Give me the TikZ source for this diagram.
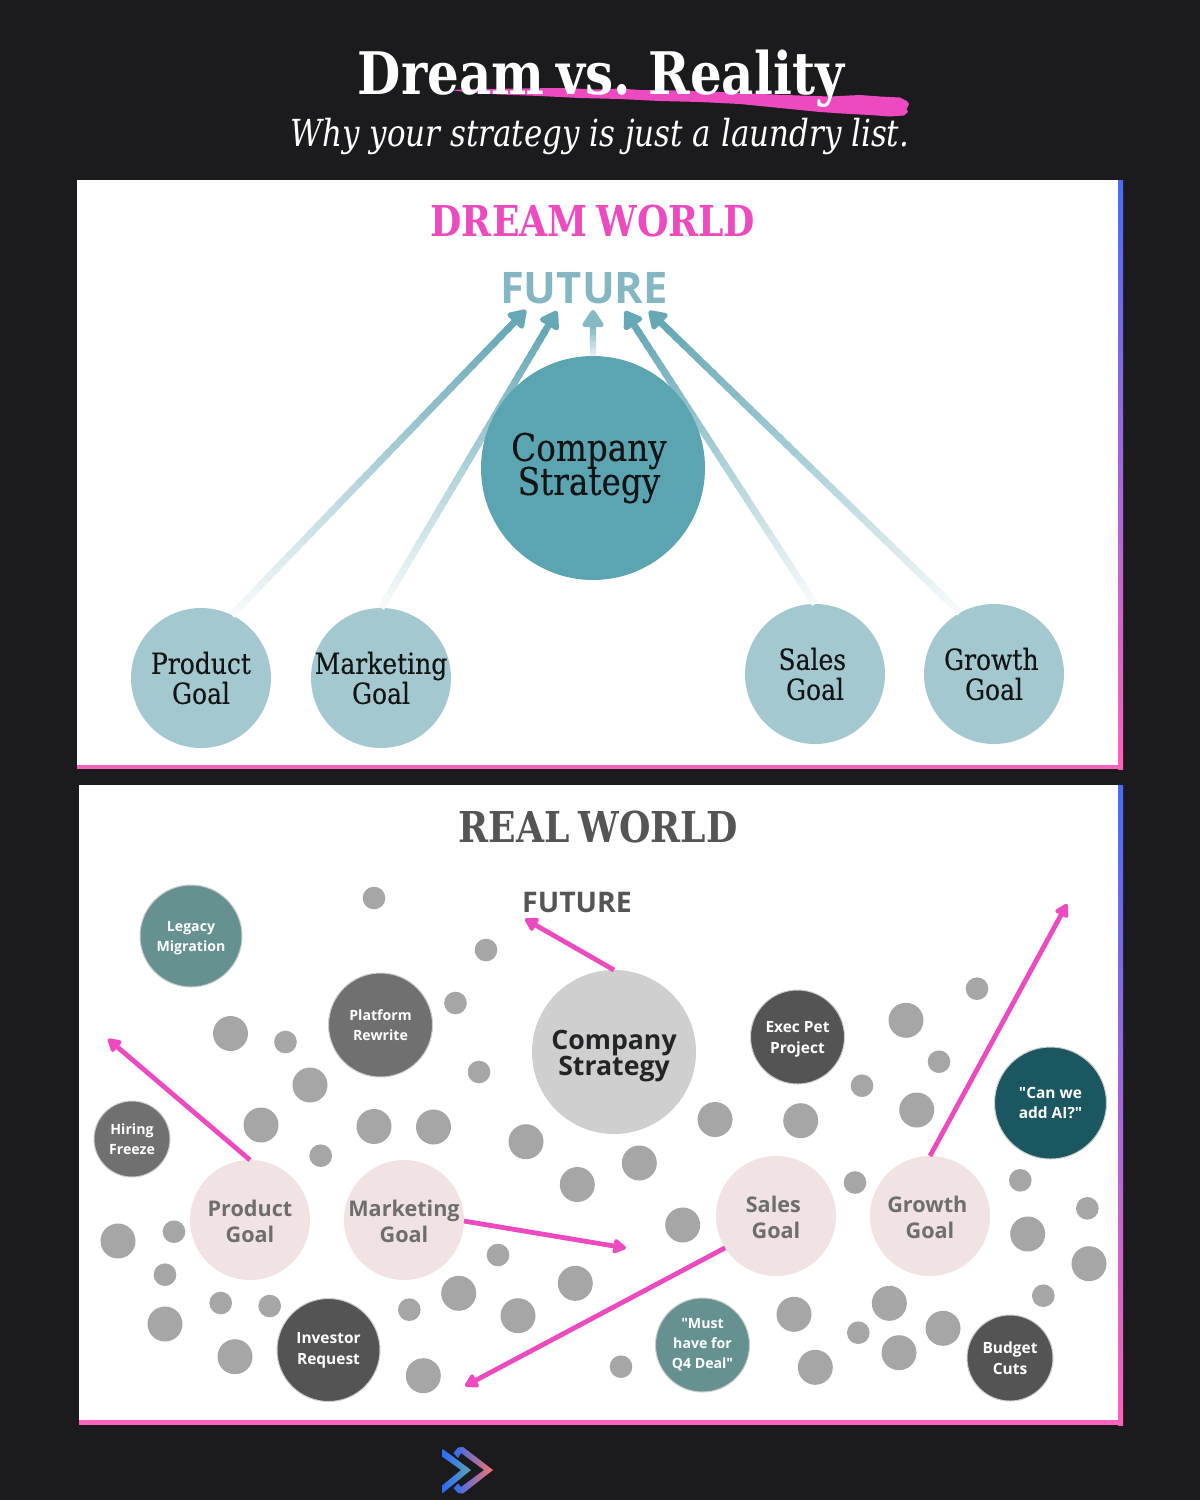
\documentclass[tikz,border=0pt]{standalone}
\usepackage{fontspec}
\usetikzlibrary{arrows.meta,calc}
\newfontfamily\osans{Open Sans}
\newfontfamily\serH[FakeStretch=0.85,WordSpace=0.7]{DejaVu Serif}
\newfontfamily\serA[FakeStretch=0.86,FakeBold=0.25]{DejaVu Serif}
\newfontfamily\serB[FakeStretch=0.83]{DejaVu Serif}
\definecolor{bgdark}{HTML}{1B1B1D}
\definecolor{pink}{HTML}{EE4AC0}
\definecolor{edgepink}{HTML}{FF62BC}
\definecolor{edgeblue}{HTML}{4A6CF5}
\definecolor{logoblue}{HTML}{2E6BF6}
\definecolor{teal}{HTML}{5BA5B3}
\definecolor{tealtip}{HTML}{66A8B6}
\definecolor{tealmid}{HTML}{85BAC5}
\definecolor{tealtext}{HTML}{84B7C2}
\definecolor{goalblue}{HTML}{A3C8D0}
\definecolor{goalrose}{HTML}{F1E3E3}
\definecolor{goaltext}{HTML}{6E6E6E}
\definecolor{darkgrey}{HTML}{545454}
\definecolor{midgrey}{HTML}{707070}
\definecolor{greenish}{HTML}{659190}
\definecolor{deepteal}{HTML}{1B5761}
\definecolor{dotgrey}{HTML}{A6A6A6}
\definecolor{lightgrey}{HTML}{CFCFCF}
\definecolor{titlegrey}{HTML}{555555}
\definecolor{ink}{HTML}{222426}
\definecolor{logoorange}{HTML}{F8736D}
\tikzset{
  disc/.style={circle,inner sep=-6pt,outer sep=0pt,minimum size=#1*1.5pt,align=center},
  greydot/.style={disc=#1,fill=dotgrey},
  topgoal/.style={disc=70,fill=goalblue,text=black!92,font=\serA\fontsize{21.8}{22.5}\selectfont},
  lowgoal/.style={disc=60,fill=goalrose,text=goaltext,font=\osans\bfseries\fontsize{16.2}{19.5}\selectfont},
  chip/.style={disc=#1,draw=gray!40,line width=0.75pt,text=white,font=\osans\bfseries\fontsize{10.6}{15}\selectfont},
  chipbig/.style={disc=#1,draw=gray!40,line width=0.75pt,text=white,font=\osans\bfseries\fontsize{11.6}{15.5}\selectfont},
  pinkarrow/.style={draw=pink,line width=3.6pt,-{Triangle[round,length=11pt,width=12pt]}},
  plaintext/.style={inner sep=0pt,outer sep=0pt,anchor=base},
}
\newcommand{\fadearrow}[5]{%
  \coordinate (headback) at ($(#2)!14pt!(#1)$);
  \foreach \i in {0,...,39}{%
    \pgfmathsetmacro\ta{\i/40}%
    \pgfmathsetmacro\tb{min(1,(\i+1.4)/40)}%
    \pgfmathtruncatemacro\pc{#5+(100-#5)*\i/39}%
    \draw[line width=#3,color=#4!\pc!white] ($(#1)!\ta!(headback)$) -- ($(#1)!\tb!(headback)$);
  }%
  \draw[line width=#3,color=#4,-{Triangle[round,length=14.5pt,width=18pt]}] (headback) -- (#2);
}
\begin{document}
\begin{tikzpicture}[x=0.75pt,y=-0.75pt]
\lineskiplimit=-100pt
\useasboundingbox (0,0) rectangle (1200,1500);
\fill[bgdark] (0,0) rectangle (1200,1500);

% brush stroke
\fill[pink,line join=round] (449,90) -- (480,89) -- (520,88.5) -- (560,88) -- (600,89.5) -- (620,88.5) -- (640,90) -- (680,90.5) -- (720,92) -- (760,94) -- (800,95.5) -- (830,96.5) -- (860,95) -- (880,96.5) -- (900,97.5) -- (907,101) -- (909,104) -- (906.5,109) -- (908,112) -- (904,115.5) -- (890,116.5) -- (870,115) -- (850,114) -- (820,112) -- (780,108) -- (740,104) -- (700,102) -- (660,101) -- (620,99) -- (580,98) -- (540,96) -- (500,94.5) -- (470,92.5) -- cycle;

\node[plaintext,text=white] (title) at (601,94) {\serH\bfseries\fontsize{44}{50}\selectfont Dream vs. Reality};
\node[plaintext,text=white] (subtitle) at (600,146) {\serB\itshape\fontsize{27.95}{32}\selectfont Why your strategy is just a laundry list.};

% panel 1
\fill[white] (77,180) rectangle (1123,769);
\shade[top color=edgeblue,bottom color=edgepink] (1118,180) rectangle (1123,769);
\fill[edgepink] (77,765) rectangle (1123,769);

\node[plaintext,text=pink] (dream) at (593,236) {\serH\bfseries\fontsize{31.9}{36}\selectfont DREAM WORLD};
\node[plaintext,text=tealtext] (future1) at (584,303) {\osans\bfseries\fontsize{32.6}{36}\selectfont FUTURE};

\node[topgoal] (prodA) at (201,678) {Product\\Goal};
\node[topgoal] (mktA) at (381,678) {Marketing\\Goal};
\node[topgoal] (salesA) at (815,674) {Sales\hspace*{4pt}\\Goal};
\node[topgoal] (growA) at (994,674) {Growth\hspace*{4pt}\\Goal};

\coordinate (tipP) at (526,310);
\coordinate (tipM) at (557,311);
\coordinate (tipC) at (593,310);
\coordinate (tipS) at (625,311);
\coordinate (tipG) at (649,311);
\coordinate (startC) at (593,356);

\fadearrow{prodA.64}{tipP}{5.2pt}{tealtip}{6}
\fadearrow{mktA.90}{tipM}{5.2pt}{tealtip}{6}
\fadearrow{salesA.90}{tipS}{5.2pt}{tealtip}{6}
\fadearrow{growA.119}{tipG}{5.2pt}{tealtip}{6}
\fadearrow{startC}{tipC}{4.6pt}{tealmid}{20}

\node[disc=112,fill=teal,text=black!92,font=\serA\fontsize{28.5}{25.5}\selectfont] (stratA) at (593,468) {Company\hspace*{6pt}\\Strategy\hspace*{6pt}};

% panel 2
\fill[white] (79,785) rectangle (1123,1425);
\shade[top color=edgeblue,bottom color=edgepink] (1118,785) rectangle (1123,1425);
\fill[edgepink] (79,1419.5) rectangle (1123,1425);

\node[plaintext,text=titlegrey] (real) at (598,842) {\serH\bfseries\fontsize{31.9}{36}\selectfont REAL WORLD};
\node[plaintext,text=titlegrey] (future2) at (577,912) {\osans\bfseries\fontsize{21.3}{24}\selectfont FUTURE};

\foreach \x/\y/\r [count=\n] in {
374/898/10,486/950/10,230.5/1033.5/17.5,285.5/1042/10,310/1085/17.5,455.5/1003/10,479/1072/10,
261/1125/17.5,374/1126.5/17.5,433.5/1127/17.5,320.7/1155.7/10,526/1141.7/17.5,577.3/1184.5/17.5,
639.3/1163/17.5,715/1119.5/17.5,977/988.7/10,906/1020.3/17.5,939/1061.7/10,862/1085.7/10,
916.7/1110/17.5,800.7/1120.7/17.5,855/1182.5/10,1020.3/1180.3/10,118/1241/17.5,174/1231.7/10,
165/1274.7/10,220.7/1303/10,269.7/1306/10,165/1324/17.5,235/1356.7/17.5,409.3/1309.7/10,
458.7/1293.3/17.5,423.3/1375.7/17.5,498/1255/10,682.7/1225/17.5,575.3/1283.3/17.5,518/1315.7/17.5,
621/1366.7/10,1087.3/1208.3/10,1027.7/1234/17.5,1089/1263.7/17.5,1043.3/1295.7/10,794/1314.3/17.5,
889.3/1303.3/17.5,858.3/1332.7/10,943/1328.3/17.5,899/1352.7/17.5,815.3/1367.3/17.5}
{\node[greydot=\r,name=d\n] at (\x,\y) {};}

\node[disc=82,fill=lightgrey,text=ink,font=\osans\bfseries\fontsize{20}{19.5}\selectfont] (stratB) at (614,1052) {\rule{0pt}{20.5pt}Company\\Strategy};
\node[lowgoal] (prodB) at (250,1220) {\rule{0pt}{14.5pt}Product\\Goal};
\node[lowgoal] (mktB) at (404,1220) {\rule{0pt}{14.5pt}Marketing\\Goal};
\node[lowgoal] (salesB) at (776,1216) {\rule{0pt}{14.5pt}Sales\hspace*{4pt}\\Goal};
\node[lowgoal] (growB) at (930,1216) {\rule{0pt}{14.5pt}Growth\hspace*{4pt}\\Goal};

\node[chip=51,fill=greenish] (legacy) at (191,936) {\rule{0pt}{11pt}Legacy\\Migration};
\node[chip=52,fill=midgrey] (platform) at (380.5,1025) {Platform\\Rewrite};
\node[chip=38,fill=midgrey] (hiring) at (132,1139) {Hiring\\Freeze};
\node[chipbig=47,fill=darkgrey] (exec) at (797.5,1037) {\rule{0pt}{12pt}Exec Pet\\Project};
\node[chipbig=56,fill=deepteal] (canai) at (1050.5,1103) {"Can we\\add AI?"};
\node[chipbig=51.5,fill=darkgrey] (investor) at (328.5,1350) {Investor\\Request};
\node[chip=47,fill=greenish] (must) at (702.5,1345) {"Must\\have for\\Q4 Deal"};
\node[chipbig=43,fill=darkgrey] (budget) at (1010,1358) {Budget\\Cuts};

\coordinate (endP) at (108,1039);
\coordinate (endM) at (626,1248);
\coordinate (endS) at (465,1386);
\coordinate (endG) at (1067,904);
\coordinate (endC) at (525,919);
\draw[pinkarrow] (stratB.90) -- (endC);
\draw[pinkarrow] (prodB.90) -- (endP);
\draw[pinkarrow] (mktB.-1) -- (endM);
\draw[pinkarrow] (salesB.212) -- (endS);
\draw[pinkarrow] (growB.90) -- (endG);

% logo
\shade[left color=logoblue,right color=teal] (442.7,1449) -- (471,1470) -- (442.7,1493) -- (442.7,1485) -- (461,1470) -- (442.7,1457) -- cycle;
\shade[left color=logoblue,middle color=pink,right color=logoorange,line join=round] (453.5,1453) -- (458,1447.5) -- (463,1447) -- (493,1470) -- (463,1493.5) -- (458,1493) -- (453.5,1488) -- (458,1483.5) -- (461,1487) -- (484,1470) -- (461,1453) -- (458,1458) -- cycle;
\end{tikzpicture}
\end{document}
